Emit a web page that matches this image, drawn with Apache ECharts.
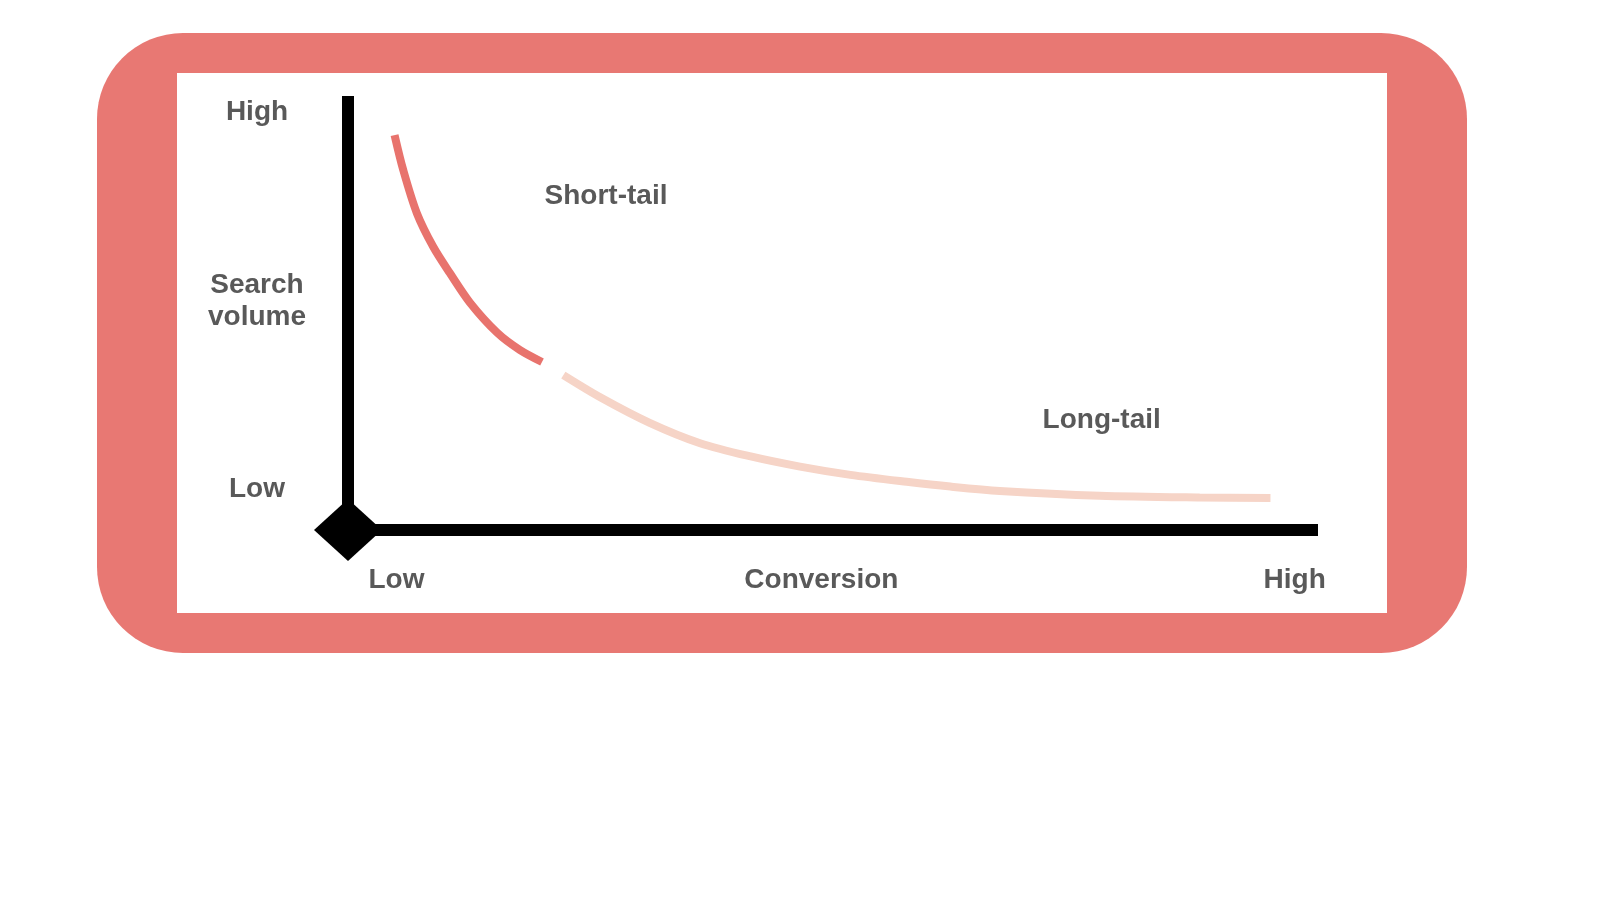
<!DOCTYPE html>
<html>
<head>
<meta charset="utf-8">
<script src="https://cdn.jsdelivr.net/npm/echarts@6/dist/echarts.min.js"></script>
<style>
html,body{margin:0;padding:0;background:#fff;}
#chart{width:1600px;height:900px;}
</style>
</head>
<body>
<div id="chart"></div>
<script>
// ---- data ----
var shortTail = [[4.8,91.0],[5.7,82.9],[7.1,73.0],[8.8,65.2],[10.5,59.2],[12.6,52.3],[15.4,45.4],[17.7,41.5],[20.0,38.7]];
var longTail = [[22.2,35.7],[26.0,30.6],[31.1,24.7],[36.3,20.0],[41.4,17.0],[46.6,14.6],[51.8,12.7],[57.6,11.1],[62.1,10.0],[67.2,9.0],[77.5,7.9],[87.8,7.5],[95.1,7.4]];
var origin = [[0,0]];
var xTickValues = [5, 48.8, 97.6];
var xTickLabels = ['Low', 'Conversion', 'High'];
var yTickValues = [9.4, 52.7, 96.3];
var yTickLabels = ['Low', 'Search\nvolume', 'High'];
var regionLabels = [
  {name: 'Short-tail', value: [26.6, 76.9]},
  {name: 'Long-tail', value: [77.7, 25.3]}
];

var textColor = '#595959';
var font = 'Liberation Sans, Arial, sans-serif';

var chart = echarts.init(document.getElementById('chart'));
chart.setOption({
  backgroundColor: '#ffffff',
  animation: false,
  graphic: {
    elements: [
      {type: 'rect', z: -20, silent: true,
       shape: {x: 97, y: 33, width: 1370, height: 620, r: 86},
       style: {fill: '#E87873'}},
      {type: 'rect', z: -19, silent: true,
       shape: {x: 177, y: 73, width: 1210, height: 540},
       style: {fill: '#ffffff'}}
    ]
  },
  grid: {left: 348, right: 282, top: 96, bottom: 370, containLabel: false},
  xAxis: {
    type: 'value', min: 0, max: 100,
    axisLine: {show: true, lineStyle: {color: '#000', width: 12, cap: 'butt'}},
    axisTick: {show: false},
    splitLine: {show: false},
    axisLabel: {
      customValues: xTickValues,
      margin: 34,
      color: textColor, fontFamily: font, fontWeight: 'bold', fontSize: 28, lineHeight: 32,
      formatter: function (v) {
        var i = xTickValues.indexOf(v);
        return i >= 0 ? xTickLabels[i] : '';
      }
    }
  },
  yAxis: {
    type: 'value', min: 0, max: 100,
    axisLine: {show: true, lineStyle: {color: '#000', width: 12, cap: 'butt'}},
    axisTick: {show: false},
    splitLine: {show: false},
    axisLabel: {
      customValues: yTickValues,
      margin: 91, align: 'center',
      color: textColor, fontFamily: font, fontWeight: 'bold', fontSize: 28, lineHeight: 32,
      formatter: function (v) {
        var i = yTickValues.indexOf(v);
        return i >= 0 ? yTickLabels[i] : '';
      }
    }
  },
  series: [
    {
      type: 'line', data: shortTail, smooth: 0.3, showSymbol: false,
      lineStyle: {color: '#E8736D', width: 8}, z: 3
    },
    {
      type: 'line', data: longTail, smooth: 0.3, showSymbol: false,
      lineStyle: {color: '#F6D4C7', width: 8}, z: 3
    },
    {
      type: 'scatter', data: origin, symbol: 'diamond', symbolSize: [68, 62],
      itemStyle: {color: '#000', opacity: 1}, clip: false, z: 4, silent: true
    },
    {
      type: 'scatter', data: regionLabels, symbolSize: 0, silent: true,
      itemStyle: {opacity: 1},
      label: {
        show: true, position: 'inside', formatter: '{b}', opacity: 1,
        color: textColor, fontFamily: font, fontWeight: 'bold', fontSize: 28
      }
    }
  ]
});
</script>
</body>
</html>
